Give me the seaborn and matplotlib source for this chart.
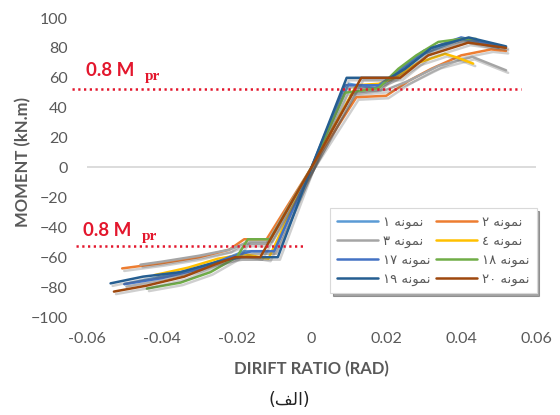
import numpy as np
import pandas as pd
import matplotlib
matplotlib.use("Agg")
import matplotlib.pyplot as plt
import seaborn as sns
from matplotlib import patheffects as pe
from matplotlib.lines import Line2D

# ---------------- data ----------------
samples = ["1", "2", "3", "4", "17", "18", "19", "20"]

drift_1 = [-0.050, -0.040, -0.030, -0.022, -0.018, -0.010, 0.0, 0.010, 0.017, 0.022, 0.030, 0.040, 0.050]
moment_1 = [-78, -73, -67, -60, -56, -56, 0, 56, 53, 60, 76, 86, 80]

drift_2 = [-0.0506, -0.040, -0.030, -0.022, -0.018, -0.012, 0.0, 0.012, 0.020, 0.026, 0.032, 0.040, 0.048, 0.052]
moment_2 = [-67.5, -64, -60, -55, -48, -48, 0, 47, 48, 58, 66, 75, 79, 78]

drift_3 = [-0.0457, -0.040, -0.030, -0.022, -0.018, -0.012, 0.0, 0.011, 0.020, 0.026, 0.034, 0.043, 0.052]
moment_3 = [-65, -63, -59, -55, -51, -51, 0, 50, 52, 58, 68, 74, 65]

drift_4 = [-0.042, -0.033, -0.025, -0.018, -0.0115, 0.0, 0.012, 0.018, 0.0224, 0.0285, 0.0357, 0.039, 0.0432]
moment_4 = [-72, -67, -61, -58, -61, 0, 55, 56, 60, 70, 76, 73.5, 69.5]

drift_17 = [-0.050, -0.040, -0.030, -0.022, -0.016, -0.010, 0.0, 0.009, 0.018, 0.022, 0.030, 0.040, 0.051]
moment_17 = [-78, -74, -68, -60, -56, -56, 0, 55, 55, 62, 78, 87, 81]

drift_18 = [-0.044, -0.035, -0.027, -0.020, -0.017, -0.011, 0.0, 0.009, 0.0179, 0.0232, 0.0280, 0.0339, 0.040, 0.044]
moment_18 = [-81, -77, -70, -60, -48, -48, 0, 50, 53, 66, 75, 84, 86, 86]

drift_19 = [-0.0537, -0.045, -0.035, -0.025, -0.019, -0.009, 0.0, 0.0094, 0.021, 0.025, 0.032, 0.042, 0.052]
moment_19 = [-77.5, -73, -70, -63, -60, -60, 0, 60, 60, 66, 80, 87, 81]

drift_20 = [-0.0528, -0.044, -0.034, -0.026, -0.0204, -0.0137, 0.0, 0.0133, 0.0237, 0.0312, 0.0419, 0.052]
moment_20 = [-83, -79, -73, -65, -60, -60, 0, 60, 60, 75, 83.5, 80]

mpr_upper_x = [-0.064, 0.056]
mpr_upper_y = [52.5, 52.5]
mpr_lower_x = [-0.063, -0.002]
mpr_lower_y = [-52.5, -52.5]

x_ticks = [-0.06, -0.04, -0.02, 0.0, 0.02, 0.04, 0.06]
x_tick_labels = ["-0.06", "-0.04", "-0.02", "0", "0.02", "0.04", "0.06"]
y_ticks = [-100, -80, -60, -40, -20, 0, 20, 40, 60, 80, 100]

colors = ["#5B9BD5", "#ED7D31", "#A5A5A5", "#FFC000",
          "#4472C4", "#70AD47", "#255E91", "#9E480E"]

# Persian legend labels in visual (presentation-form) order
word = "\uFEEA\uFEE7\uFEEE\uFEE4\uFEE7"  # نمونه
digits = ["\u06F1", "\u06F2", "\u06F3", "\u0664",
          "\u06F1\u06F7", "\u06F1\u06F8", "\u06F1\u06F9", "\u06F2\u06F0"]
legend_labels = [d + " " + word for d in digits]
caption = "(\uFED2\uFEDF\uFE8D)"  # (الف)

# ---------------- build long table ----------------
drifts = [drift_1, drift_2, drift_3, drift_4, drift_17, drift_18, drift_19, drift_20]
moments = [moment_1, moment_2, moment_3, moment_4, moment_17, moment_18, moment_19, moment_20]
rows = []
for s, dx, my in zip(samples, drifts, moments):
    for i, (a, b) in enumerate(zip(dx, my)):
        rows.append({"sample": s, "drift": a, "moment": b, "i": i})
df = pd.DataFrame(rows)

sns.set_theme(style="white")
plt.rcParams["font.family"] = ["Lato", "DejaVu Sans"]

fig = plt.figure(figsize=(5.6, 4.15), dpi=100)
ax = fig.add_axes([87 / 560, 1 - 317 / 415, 449 / 560, 299 / 415])

ax.axhline(0, color="#D9D9D9", lw=1.3, zorder=0)

palette = dict(zip(samples, colors))
sns.lineplot(data=df, x="drift", y="moment", hue="sample", hue_order=samples,
             palette=palette, sort=False, estimator=None, units="sample",
             lw=1.8, ax=ax, legend=False)

shadow = [pe.SimpleLineShadow(offset=(1.5, -1.8), shadow_color="#555555", alpha=0.28),
          pe.Normal()]
for ln in ax.lines[1:]:
    ln.set_path_effects(shadow)

red = "#E3172D"
ax.plot(mpr_upper_x, mpr_upper_y, color=red, lw=1.8, ls=(0, (0.9, 1.4)), clip_on=False)
ax.plot(mpr_lower_x, mpr_lower_y, color=red, lw=1.8, ls=(0, (0.9, 1.4)), clip_on=False)

# 0.8 Mpr labels
for (xt, yt) in [(86, 76), (83, 236)]:
    fig.text(xt / 560, 1 - yt / 415, "0.8 M", color=red, fontsize=13.5, fontweight="bold",
             ha="left", va="baseline")
    fig.text((xt + 59) / 560, 1 - (yt + 4) / 415, "pr", color=red, fontsize=11,
             fontweight="bold", family="Liberation Serif", ha="left", va="baseline")

ax.set_xlim(-0.06, 0.06)
ax.set_ylim(-100, 100)
ax.set_xticks(x_ticks)
ax.set_xticklabels(x_tick_labels)
ax.set_yticks(y_ticks)
for sp in ax.spines.values():
    sp.set_visible(False)
ax.tick_params(axis="both", length=0, labelsize=11.5, labelcolor="#595959")
ax.tick_params(axis="y", pad=14)
ax.tick_params(axis="x", pad=11)
ax.set_xlabel("")
ax.set_ylabel("")

fig.text(311 / 560, 1 - 369 / 415, "DIRIFT RATIO (RAD)", fontsize=12, fontweight="bold",
         color="#595959", ha="center", va="center")
fig.text(23 / 560, 1 - 162 / 415, "MOMENT (kN.m)", fontsize=12, fontweight="bold",
         color="#595959", ha="center", va="center", rotation=90)
fig.text(289 / 560, 1 - 400 / 415, caption, fontsize=12.5, color="#222222",
         ha="center", va="center", family=["DejaVu Sans"])

# legend: rows (1,2),(3,4),(17,18),(19,20)
handles = [Line2D([], [], color=c, lw=1.8) for c in colors]
order = [0, 2, 4, 6, 1, 3, 5, 7]
leg = ax.legend([handles[k] for k in order], [legend_labels[k] for k in order],
                ncol=2, loc="lower left",
                bbox_to_anchor=(0.526, 0.057, 0.49, 0.287), mode="expand",
                frameon=True, fancybox=False, shadow=True, handlelength=3.1,
                handletextpad=0.4, columnspacing=1.2, borderpad=0.55, labelspacing=0.45,
                prop={"family": ["DejaVu Sans"], "size": 9.5})
leg.get_frame().set_edgecolor("#D9D9D9")
leg.get_frame().set_linewidth(0.8)
for t in leg.get_texts():
    t.set_color("#595959")

fig.savefig("out.png", dpi=100)
